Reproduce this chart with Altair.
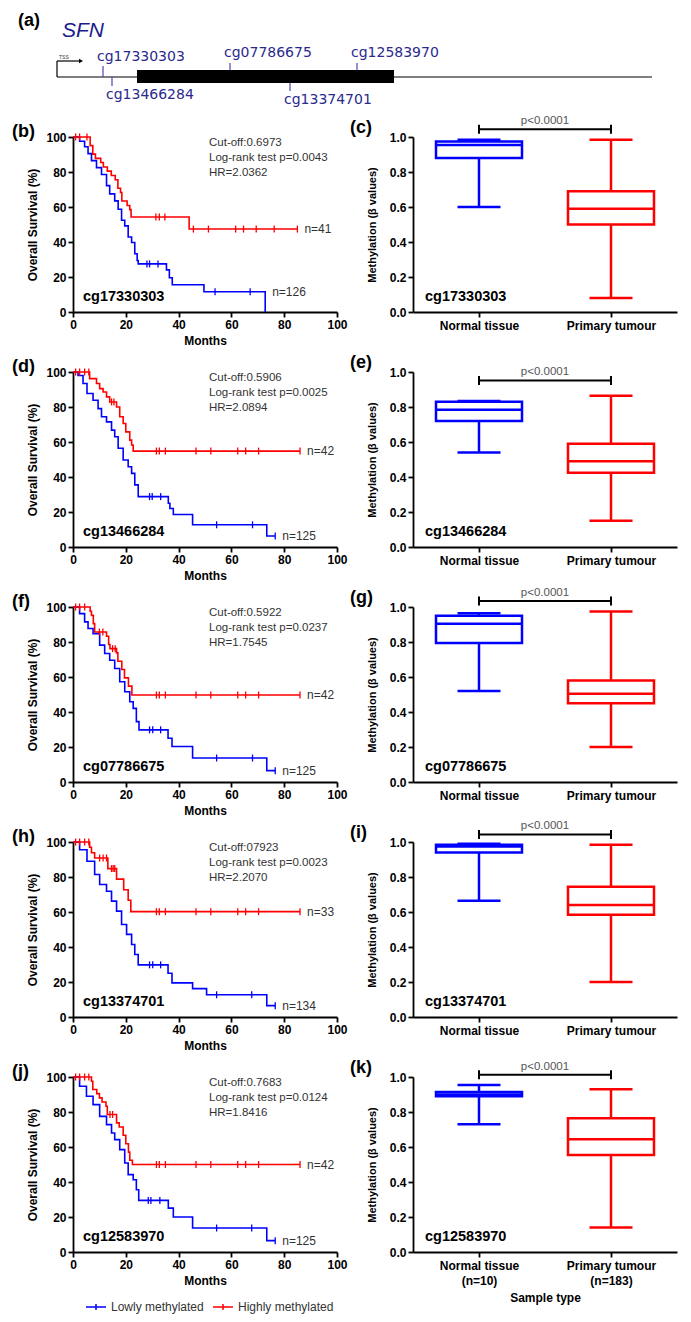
import altair as alt
import pandas as pd

FONT = "Liberation Sans"
BLUE = "#0000ff"
RED = "#ff0000"
TXT = "#333333"
NAVY = "#2a2a8e"

GROUPS = ["Lowly methylated", "Highly methylated"]
SAMPLES = ["Normal tissue", "Primary tumour"]
SAMPLE_N = ["(n=10)", "(n=183)"]
MONTH_TICKS = [0, 20, 40, 60, 80, 100]
SURV_TICKS = [0, 20, 40, 60, 80, 100]
BETA_TICKS = [0.0, 0.2, 0.4, 0.6, 0.8, 1.0]

# ---- gene diagram (a) ----
PROBES = ["cg17330303", "cg13466284", "cg07786675", "cg13374701", "cg12583970"]
PROBE_POS = [46, 55, 173, 233, 300]
PROBE_SIDE = ["above", "below", "above", "below", "above"]
GENE_SPAN = [0, 595]
EXON_SPAN = [80, 337]

# ---- KM panel texts ----
KM_LETTERS = ["(b)", "(d)", "(f)", "(h)", "(j)"]
BOX_LETTERS = ["(c)", "(e)", "(g)", "(i)", "(k)"]
CUTOFF = ["Cut-off:0.6973", "Cut-off:0.5906", "Cut-off:0.5922", "Cut-off:07923", "Cut-off:0.7683"]
LOGRANK = ["Log-rank test p=0.0043", "Log-rank test p=0.0025", "Log-rank test p=0.0237",
           "Log-rank test p=0.0023", "Log-rank test p=0.0124"]
HR = ["HR=2.0362", "HR=2.0894", "HR=1.7545", "HR=2.2070", "HR=1.8416"]
N_LOW = ["n=126", "n=125", "n=125", "n=134", "n=125"]
N_HIGH = ["n=41", "n=42", "n=42", "n=33", "n=42"]

# ---- KM curves (months, survival %) ----
B_LO_T = [0, 2.5, 4.4, 5.7, 7.0, 8.9, 10.8, 12.7, 13.9, 15.8, 17.1, 18.4, 19.6, 20.9, 22.2, 23.4, 24.3, 24.7, 35.4, 36.5, 37.6, 49.6, 72.8]
B_LO_S = [100, 97.6, 94.4, 90.5, 86.5, 82.5, 78.6, 72.2, 67.5, 63.5, 58.7, 52.4, 49.2, 42.9, 39.7, 33.3, 29.4, 27.5, 24.1, 19.6, 15.6, 11.6, 0]
B_LO_CT = [28.0, 29.0, 32.2, 53.8, 67.1]
B_LO_CS = [27.5, 27.5, 27.5, 11.6, 11.6]
B_HI_T = [0, 6.5, 7.5, 8.5, 10.5, 11.5, 13.0, 14.5, 16.0, 17.0, 18.0, 18.5, 20.5, 21.5, 22.0, 44.0, 85.0]
B_HI_S = [100, 95.1, 90.2, 87.8, 85.4, 82.9, 80.5, 78.0, 75.6, 70.7, 68.3, 63.4, 60.9, 58.5, 54.3, 47.4, 47.4]
B_HI_CT = [1.0, 2.5, 5.3, 31.4, 32.7, 34.8, 45.6, 51.3, 61.6, 64.6, 69.4, 76.2, 85.0]
B_HI_CS = [100, 100, 100, 54.3, 54.3, 54.3, 47.4, 47.4, 47.4, 47.4, 47.4, 47.4, 47.4]

D_LO_T = [0, 1.9, 3.8, 5.3, 7.6, 9.5, 10.8, 12.7, 14.6, 15.8, 17.1, 19.0, 20.9, 22.2, 23.4, 24.7, 36.1, 36.7, 38.0, 45.3, 73.4, 76.6]
D_LO_S = [100, 98.0, 93.4, 87.7, 83.9, 79.1, 74.4, 71.5, 66.8, 63.0, 56.4, 49.7, 45.9, 42.1, 35.5, 28.8, 25.0, 22.0, 18.6, 12.7, 6.3, 6.3]
D_LO_CT = [29.0, 30.0, 33.2, 54.4, 68.0, 76.6]
D_LO_CS = [28.8, 28.8, 28.8, 12.7, 12.7, 6.3]
D_HI_T = [0, 6.3, 8.9, 10.1, 11.4, 12.7, 13.9, 16.5, 17.7, 19.0, 20.0, 21.5, 22.2, 22.8, 86.0]
D_HI_S = [100, 96.2, 93.4, 90.5, 88.6, 85.8, 82.9, 80.0, 74.4, 70.6, 65.8, 61.1, 58.3, 54.8, 54.8]
D_HI_CT = [1.0, 2.5, 4.4, 6.0, 14.6, 15.5, 31.6, 32.7, 35.0, 46.6, 52.2, 62.4, 65.4, 70.3, 86.0]
D_HI_CS = [100, 100, 100, 100, 82.9, 82.9, 54.8, 54.8, 54.8, 54.8, 54.8, 54.8, 54.8, 54.8, 54.8]

F_LO_T = [0, 2.5, 4.4, 5.7, 7.6, 10.1, 12.0, 13.9, 15.8, 17.7, 19.6, 21.5, 22.8, 24.0, 25.0, 36.0, 37.5, 45.3, 73.4, 76.6]
F_LO_S = [100, 96.2, 91.5, 87.7, 84.8, 78.2, 73.4, 69.6, 64.9, 57.3, 51.6, 45.9, 42.1, 34.5, 29.8, 25.0, 20.3, 13.7, 6.5, 6.5]
F_LO_CT = [29.0, 30.2, 33.2, 54.4, 68.0, 76.6]
F_LO_CS = [29.8, 29.8, 29.8, 13.7, 13.7, 6.5]
F_HI_T = [0, 6.5, 7.0, 7.7, 8.2, 12.7, 13.5, 14.0, 16.5, 17.0, 18.5, 19.5, 21.0, 22.3, 86.0]
F_HI_S = [100, 97.6, 95.2, 90.5, 85.7, 83.3, 78.6, 76.2, 73.8, 69.0, 64.3, 59.5, 54.8, 49.7, 49.7]
F_HI_CT = [1.0, 2.5, 4.4, 10.0, 11.3, 15.0, 16.0, 31.6, 32.7, 35.0, 46.6, 52.2, 62.4, 65.4, 70.3, 86.0]
F_HI_CS = [100, 100, 100, 85.7, 85.7, 76.2, 76.2, 49.7, 49.7, 49.7, 49.7, 49.7, 49.7, 49.7, 49.7, 49.7]

H_LO_T = [0, 2.5, 5.3, 8.2, 10.1, 12.7, 14.6, 16.5, 18.4, 20.3, 22.2, 23.4, 24.7, 36.0, 37.5, 45.3, 50.6, 73.4, 76.6]
H_LO_S = [100, 95.6, 89.0, 81.4, 75.7, 71.9, 66.2, 60.5, 52.9, 47.2, 41.4, 35.7, 29.8, 25.0, 19.5, 16.2, 12.7, 6.5, 6.5]
H_LO_CT = [29.0, 30.2, 33.2, 54.4, 67.7, 76.6]
H_LO_CS = [29.8, 29.8, 29.8, 12.7, 12.7, 6.5]
H_HI_T = [0, 6.3, 7.0, 8.2, 13.2, 16.5, 19.2, 20.9, 21.9, 86.0]
H_HI_S = [100, 97.0, 93.9, 90.9, 84.8, 78.8, 72.7, 66.7, 60.2, 60.2]
H_HI_CT = [1.0, 2.5, 4.4, 6.0, 10.1, 11.4, 12.7, 14.6, 15.2, 15.8, 31.6, 32.7, 35.0, 46.6, 52.2, 62.4, 65.4, 70.3, 86.0]
H_HI_CS = [100, 100, 100, 100, 90.9, 90.9, 90.9, 84.8, 84.8, 84.8, 60.2, 60.2, 60.2, 60.2, 60.2, 60.2, 60.2, 60.2, 60.2]

J_LO_T = [0, 2.5, 5.1, 7.6, 10.1, 12.7, 14.6, 15.8, 17.7, 19.6, 20.9, 22.8, 24.0, 24.9, 36.1, 38.0, 45.3, 73.4, 76.6]
J_LO_S = [100, 94.7, 89.0, 84.2, 77.5, 72.8, 68.0, 64.2, 58.5, 50.9, 44.2, 41.3, 35.6, 29.5, 25.1, 20.0, 13.7, 6.5, 6.5]
J_LO_CT = [28.5, 29.5, 32.9, 54.4, 67.7, 76.6]
J_LO_CS = [29.5, 29.5, 29.5, 13.7, 13.7, 6.5]
J_HI_T = [0, 7.0, 7.5, 9.0, 10.0, 11.0, 12.5, 13.0, 16.5, 17.5, 19.0, 20.0, 21.0, 21.5, 22.5, 86.0]
J_HI_S = [100, 97.6, 92.9, 90.5, 88.1, 85.7, 83.3, 78.6, 73.8, 71.4, 66.7, 61.9, 57.1, 52.4, 50.0, 50.0]
J_HI_CT = [1.0, 2.5, 4.4, 6.0, 14.0, 15.0, 31.6, 32.7, 35.0, 46.6, 52.2, 62.4, 65.4, 70.3, 86.0]
J_HI_CS = [100, 100, 100, 100, 78.6, 78.6, 50.0, 50.0, 50.0, 50.0, 50.0, 50.0, 50.0, 50.0, 50.0]

# ---- box plot summaries: [min, q1, median, q3, max] ----
C_NORMAL = [0.60, 0.88, 0.955, 0.975, 0.985]
C_TUMOUR = [0.08, 0.50, 0.59, 0.69, 0.985]
E_NORMAL = [0.54, 0.72, 0.785, 0.83, 0.835]
E_TUMOUR = [0.15, 0.425, 0.49, 0.59, 0.865]
G_NORMAL = [0.52, 0.795, 0.905, 0.95, 0.965]
G_TUMOUR = [0.20, 0.45, 0.505, 0.58, 0.975]
I_NORMAL = [0.665, 0.94, 0.975, 0.985, 0.99]
I_TUMOUR = [0.20, 0.585, 0.64, 0.745, 0.985]
K_NORMAL = [0.73, 0.89, 0.90, 0.915, 0.955]
K_TUMOUR = [0.14, 0.555, 0.645, 0.765, 0.93]
BRACKET_Y = [1.044, 0.952, 1.034, 1.043, 1.013]
P_TEXT = "p<0.0001"

KM_W, KM_H = 264, 175
BOX_W = 264
ONE = pd.DataFrame({"k": [0]})


def header_chart():
    hx = alt.Scale(domain=[16, 620], nice=False, zero=False)
    X = lambda f: alt.X(f, scale=hx, axis=None)
    gene = pd.DataFrame({"a": [GENE_SPAN[0]], "b": [GENE_SPAN[1]]})
    exon = pd.DataFrame({"a": [EXON_SPAN[0]], "b": [EXON_SPAN[1]]})
    tss = pd.DataFrame({"a": [GENE_SPAN[0]]})
    probes = pd.DataFrame({"name": PROBES, "pos": PROBE_POS, "side": PROBE_SIDE})
    probes["inexon"] = [(EXON_SPAN[0] <= p <= EXON_SPAN[1]) for p in PROBE_POS]

    layers = [
        alt.Chart(gene).mark_rule(color="#555555", strokeWidth=1.5).encode(
            x=X("a:Q"), x2="b:Q", y=alt.value(60)),
        alt.Chart(exon).mark_rect(color="black").encode(
            x=X("a:Q"), x2="b:Q", y=alt.value(53), y2=alt.value(66)),
        alt.Chart(tss).mark_rule(color="black", strokeWidth=1.2).encode(
            x=X("a:Q"), y=alt.value(44), y2=alt.value(60)),
        alt.Chart(tss).mark_rule(color="black", strokeWidth=1.2).encode(
            x=X("a:Q"), x2=alt.value(6), y=alt.value(44)),
        alt.Chart(tss).mark_point(shape="triangle-right", filled=True, size=22,
                                  color="black", opacity=1).encode(
            x=alt.value(8), y=alt.value(44)),
        alt.Chart(tss).mark_text(text="TSS", fontSize=5, align="left", dx=2,
                                 baseline="middle", color="#333333", font=FONT).encode(
            x=X("a:Q"), y=alt.value(40)),
    ]
    specs = [("above", True, 46, 53, 36), ("above", False, 49, 60, 40),
             ("below", True, 66, 74, 83), ("below", False, 60, 69, 78)]
    for side, inex, y0, y1, ly in specs:
        sub = alt.Chart(probes).transform_filter(
            f"datum.side == '{side}' && datum.inexon == {str(inex).lower()}")
        layers.append(sub.mark_rule(color="#4a4ab0", strokeWidth=1.2).encode(
            x=X("pos:Q"), y=alt.value(y0), y2=alt.value(y1)))
        layers.append(sub.mark_text(align="left", baseline="middle", dx=-6, fontSize=14,
                                    font="DejaVu Sans", color=NAVY).encode(
            x=X("pos:Q"), y=alt.value(ly), text="name:N"))
    layers.append(alt.Chart(ONE).mark_text(text="(a)", align="left", baseline="middle",
                                           fontSize=18, fontWeight="bold", font=FONT,
                                           color="black").encode(
        x=alt.value(-55), y=alt.value(4)))
    layers.append(alt.Chart(ONE).mark_text(text="SFN", align="left", baseline="middle",
                                           fontSize=21, fontStyle="italic", font=FONT,
                                           color="#1c1c8c").encode(
        x=alt.value(-11), y=alt.value(14)))
    return alt.layer(*layers).properties(width=604, height=60)


def spacer():
    return alt.Chart(ONE).mark_point(opacity=0).encode(
        x=alt.value(0), y=alt.value(0)).properties(width=264, height=60)


def last_level(s):
    nz = [v for v in s if v > 0]
    return nz[-1]


def km_chart(i, probe, lo, hi, legend=False):
    lo_t, lo_s, lo_ct, lo_cs = lo
    hi_t, hi_s, hi_ct, hi_cs = hi
    steps = pd.DataFrame({"t": lo_t + hi_t, "s": lo_s + hi_s,
                          "g": [GROUPS[0]] * len(lo_t) + [GROUPS[1]] * len(hi_t)})
    cens = pd.DataFrame({"t": lo_ct + hi_ct, "s": lo_cs + hi_cs,
                         "g": [GROUPS[0]] * len(lo_ct) + [GROUPS[1]] * len(hi_ct)})
    nlab = pd.DataFrame({"t": [lo_t[-1], hi_t[-1]],
                         "s": [last_level(lo_s), last_level(hi_s)],
                         "txt": [N_LOW[i], N_HIGH[i]]})
    xsc = alt.Scale(domain=[0, 100], nice=False, zero=False)
    ysc = alt.Scale(domain=[0, 100], nice=False)
    leg = None
    if legend:
        leg = alt.Legend(orient="none", legendX=12, legendY=219, direction="horizontal",
                         title=None, symbolType="M-1,0L1,0M0,-0.3L0,0.3", symbolSize=400,
                         symbolStrokeWidth=1.5, labelFontSize=12, labelColor=TXT,
                         labelFont=FONT, labelFontWeight="normal", columnPadding=6,
                         labelOffset=4)
    col = alt.Color("g:N", scale=alt.Scale(domain=GROUPS, range=[BLUE, RED]), legend=leg)
    xax = alt.Axis(values=MONTH_TICKS, tickCount=12, title="Months", labelFlush=False,
                   labelPadding=2, titlePadding=5, labelOverlap=False)
    yax = alt.Axis(values=SURV_TICKS, tickCount=12, title="Overall Survival (%)",
                   labelPadding=2, titlePadding=6, labelOverlap=False, labelFlush=False)
    lines = alt.Chart(steps).mark_line(interpolate="step-after", strokeWidth=1.6).encode(
        x=alt.X("t:Q", scale=xsc, axis=xax), y=alt.Y("s:Q", scale=ysc, axis=yax), color=col)
    ticks = alt.Chart(cens).mark_tick(orient="vertical", size=7, thickness=1.3,
                                      opacity=1).encode(x="t:Q", y="s:Q", color=col)
    ntext = alt.Chart(nlab).mark_text(align="left", baseline="middle", dx=7, fontSize=12,
                                      color=TXT, font=FONT).encode(
        x="t:Q", y="s:Q", text="txt:N")
    letter = alt.Chart(ONE).mark_text(text=KM_LETTERS[i], align="left", baseline="middle",
                                      fontSize=18, fontWeight="bold", font=FONT,
                                      color="black").encode(x=alt.value(-61), y=alt.value(-5))
    stats = alt.Chart(ONE).mark_text(align="left", baseline="top", fontSize=11.5,
                                     lineHeight=15, color=TXT, font=FONT).encode(
        x=alt.value(136), y=alt.value(0),
        text=alt.value([CUTOFF[i], LOGRANK[i], HR[i]]))
    ptext = alt.Chart(ONE).mark_text(text=probe, align="left", baseline="middle",
                                     fontSize=14.5, fontWeight="bold", font=FONT,
                                     color="black").encode(x=alt.value(10), y=alt.value(160))
    return alt.layer(lines, ticks, ntext, letter, stats, ptext).properties(
        width=KM_W, height=KM_H)


def box_chart(i, probe, normal, tumour, last=False):
    df = pd.DataFrame({"grp": SAMPLES,
                       "lo": [normal[0], tumour[0]], "q1": [normal[1], tumour[1]],
                       "med": [normal[2], tumour[2]], "q3": [normal[3], tumour[3]],
                       "hi": [normal[4], tumour[4]]})
    xsc = alt.Scale(type="point", domain=SAMPLES, padding=0.5)
    ysc = alt.Scale(domain=[0, 1], nice=False)
    if last:
        expr = (f"datum.value == '{SAMPLES[0]}' ? ['{SAMPLES[0]}', '{SAMPLE_N[0]}'] : "
                f"['{SAMPLES[1]}', '{SAMPLE_N[1]}']")
        xax = alt.Axis(title="Sample type", labelExpr=expr, labelPadding=3,
                       labelLineHeight=15, titlePadding=6, labelAngle=0, labelOverlap=False)
    else:
        xax = alt.Axis(title=None, labelPadding=3, labelAngle=0, labelOverlap=False)
    yax = alt.Axis(values=BETA_TICKS, tickCount=12, format=".1f",
                   title="Methylation (β values)", titleFontSize=11, labelPadding=2,
                   titlePadding=12, labelOverlap=False, labelFlush=False)
    col = alt.Color("grp:N", scale=alt.Scale(domain=SAMPLES, range=[BLUE, RED]), legend=None)
    base = alt.Chart(df)
    w1 = base.mark_rule(strokeWidth=2.5).encode(
        x=alt.X("grp:N", scale=xsc, axis=xax, sort=SAMPLES),
        y=alt.Y("lo:Q", scale=ysc, axis=yax), y2="q1:Q", color=col)
    w2 = base.mark_rule(strokeWidth=2.5).encode(x="grp:N", y="q3:Q", y2="hi:Q", color=col)
    box = base.mark_bar(filled=False, size=86, strokeWidth=2.5, opacity=1).encode(
        x="grp:N", y="q1:Q", y2="q3:Q", color=col)
    med = base.mark_tick(orient="horizontal", size=86, thickness=2.5, opacity=1).encode(
        x="grp:N", y="med:Q", color=col)
    cap1 = base.mark_tick(orient="horizontal", size=43, thickness=2.5, opacity=1).encode(
        x="grp:N", y="lo:Q", color=col)
    cap2 = base.mark_tick(orient="horizontal", size=43, thickness=2.5, opacity=1).encode(
        x="grp:N", y="hi:Q", color=col)
    br = pd.DataFrame({"grp": SAMPLES, "yb": [BRACKET_Y[i]] * 2})
    bline = alt.Chart(br).mark_line(color="black", strokeWidth=2).encode(
        x="grp:N", y="yb:Q")
    bends = alt.Chart(br).mark_tick(orient="vertical", size=9, thickness=2,
                                    color="black", opacity=1).encode(x="grp:N", y="yb:Q")
    ptxt = alt.Chart(br.iloc[:1]).mark_text(text=P_TEXT, align="center", baseline="bottom",
                                            dy=-3, fontSize=11.5, color="#555555",
                                            font=FONT).encode(
        x=alt.value(BOX_W / 2), y="yb:Q")
    letter = alt.Chart(ONE).mark_text(text=BOX_LETTERS[i], align="left", baseline="middle",
                                      fontSize=18, fontWeight="bold", font=FONT,
                                      color="black").encode(x=alt.value(-63), y=alt.value(-9))
    ptext = alt.Chart(ONE).mark_text(text=probe, align="left", baseline="middle",
                                     fontSize=14.5, fontWeight="bold", font=FONT,
                                     color="black").encode(x=alt.value(12), y=alt.value(160))
    return alt.layer(w1, w2, box, med, cap1, cap2, bline, bends, ptxt, letter, ptext).properties(
        width=BOX_W, height=KM_H)


KM_DATA = [
    ((B_LO_T, B_LO_S, B_LO_CT, B_LO_CS), (B_HI_T, B_HI_S, B_HI_CT, B_HI_CS)),
    ((D_LO_T, D_LO_S, D_LO_CT, D_LO_CS), (D_HI_T, D_HI_S, D_HI_CT, D_HI_CS)),
    ((F_LO_T, F_LO_S, F_LO_CT, F_LO_CS), (F_HI_T, F_HI_S, F_HI_CT, F_HI_CS)),
    ((H_LO_T, H_LO_S, H_LO_CT, H_LO_CS), (H_HI_T, H_HI_S, H_HI_CT, H_HI_CS)),
    ((J_LO_T, J_LO_S, J_LO_CT, J_LO_CS), (J_HI_T, J_HI_S, J_HI_CT, J_HI_CS)),
]
BOX_DATA = [(C_NORMAL, C_TUMOUR), (E_NORMAL, E_TUMOUR), (G_NORMAL, G_TUMOUR),
            (I_NORMAL, I_TUMOUR), (K_NORMAL, K_TUMOUR)]
PROBE_ORDER = ["cg17330303", "cg13466284", "cg07786675", "cg13374701", "cg12583970"]

left = [header_chart()]
right = [spacer()]
for i in range(5):
    last = i == 4
    left.append(km_chart(i, PROBE_ORDER[i], KM_DATA[i][0], KM_DATA[i][1], legend=last))
    right.append(box_chart(i, PROBE_ORDER[i], BOX_DATA[i][0], BOX_DATA[i][1], last=last))

RES = dict(x="independent", y="independent", color="independent")
left_col = alt.vconcat(*left, spacing=60, bounds="flush").resolve_scale(**RES)
right_col = alt.vconcat(*right, spacing=60, bounds="flush").resolve_scale(**RES)

chart = alt.hconcat(left_col, right_col, spacing=340, bounds="flush").resolve_scale(
    **RES
).properties(
    padding={"left": 4, "top": 4, "right": 4, "bottom": 4}
).configure(font=FONT).configure_view(stroke=None).configure_axis(
    domainColor="black", domainWidth=1.8, tickColor="black", tickWidth=1.8, tickSize=5,
    labelFont=FONT, labelFontWeight="bold", labelFontSize=12, labelColor="black",
    titleFont=FONT, titleFontWeight="bold", titleFontSize=12, titleColor="black",
    grid=False, labelOverlap=False
)

chart.save("out.html", embed_options={"renderer": "svg", "actions": False})
